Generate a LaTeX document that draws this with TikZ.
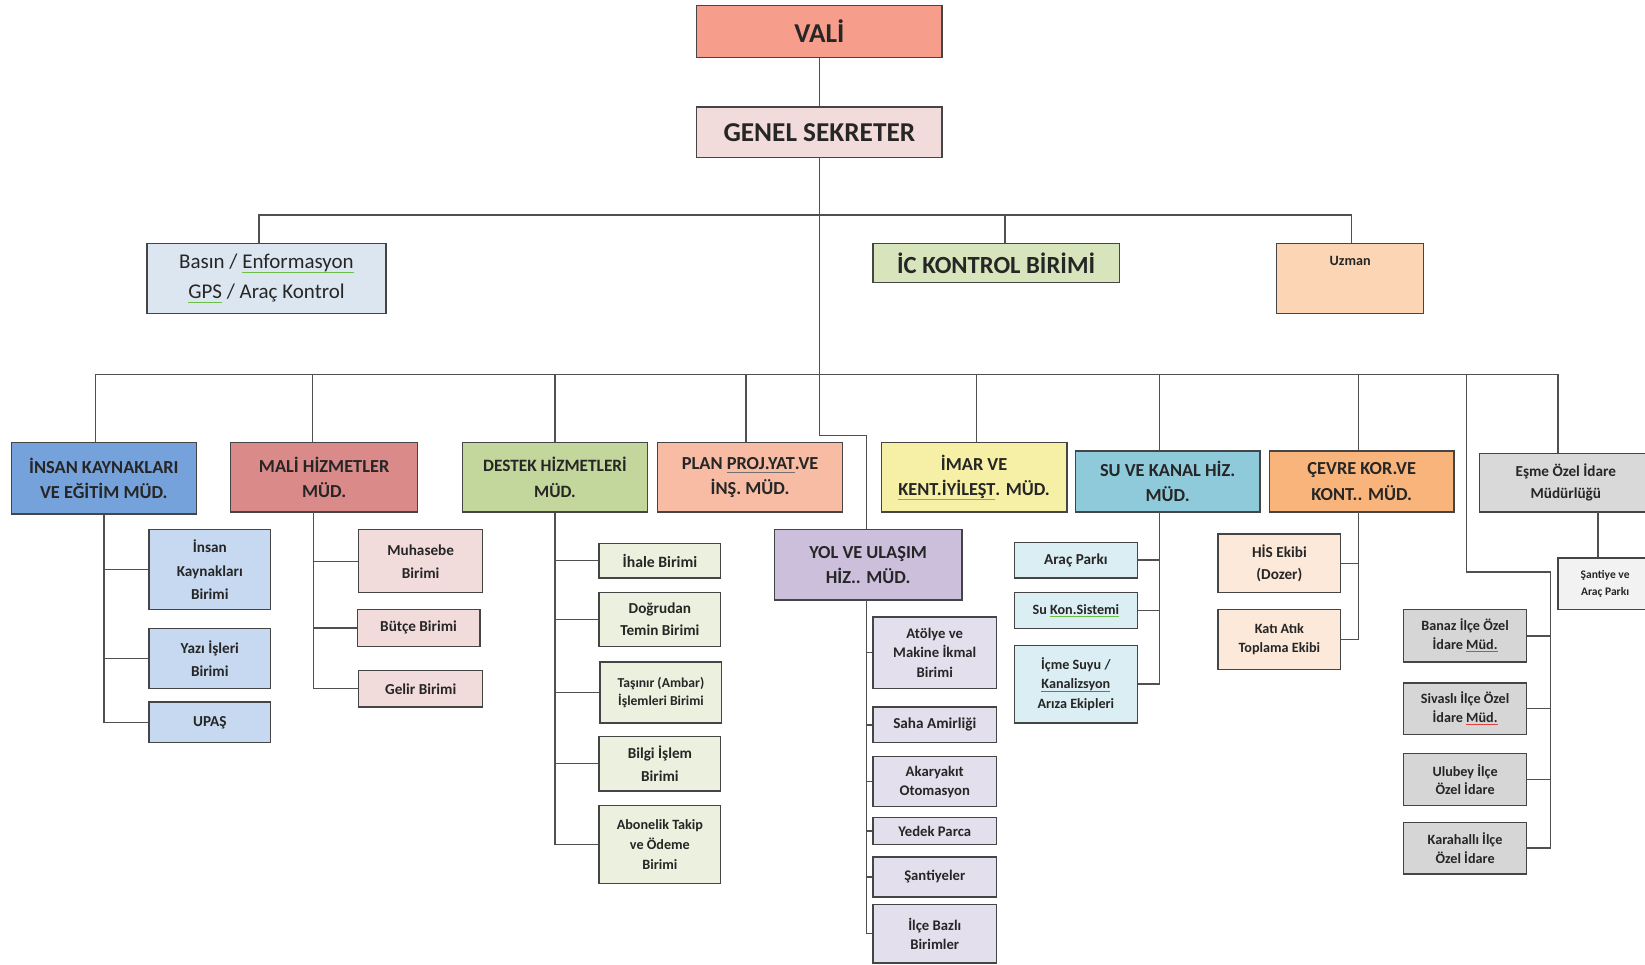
\documentclass[tikz,border=0pt]{standalone}
\usepackage{fontspec}
\setmainfont{Carlito}
\definecolor{bordc}{HTML}{454545}
\definecolor{linec}{HTML}{505050}
\definecolor{txt}{HTML}{262626}
\definecolor{ulg}{HTML}{6DBE45}
\definecolor{ulr}{HTML}{E04040}
\definecolor{uld}{HTML}{707070}
\definecolor{cVali}{HTML}{F79D8B}
\definecolor{cGS}{HTML}{F2DCDB}
\definecolor{cBasin}{HTML}{DCE6F1}
\definecolor{cIc}{HTML}{D7E4BC}
\definecolor{cUz}{HTML}{FCD5B4}
\definecolor{cIns}{HTML}{76A2DC}
\definecolor{cMali}{HTML}{D98A89}
\definecolor{cDes}{HTML}{C3D69B}
\definecolor{cPlan}{HTML}{F7BCA3}
\definecolor{cImar}{HTML}{F5F0A6}
\definecolor{cSu}{HTML}{8FCADB}
\definecolor{cCev}{HTML}{F9B47C}
\definecolor{cEs}{HTML}{D9D9D9}
\definecolor{cYol}{HTML}{CBBFDC}
\definecolor{cInsS}{HTML}{C6D9F0}
\definecolor{cMaliS}{HTML}{F2DCDB}
\definecolor{cDesS}{HTML}{EBF1DE}
\definecolor{cYolS}{HTML}{E4DFEC}
\definecolor{cSuS}{HTML}{DBEEF3}
\definecolor{cCevS}{HTML}{FDE9D9}
\definecolor{cDist}{HTML}{D6D6D6}
\definecolor{cSan}{HTML}{F2F2F2}
\newsavebox\ulbox
\newcommand\mkul[2]{\sbox\ulbox{#2}\leavevmode\rlap{\color{#1}\rule[-0.45ex]{\wd\ulbox}{1pt}}\usebox\ulbox}
\newcommand\gul[1]{\mkul{ulg}{#1}}
\newcommand\rul[1]{\mkul{ulr}{#1}}
\newcommand\dul[1]{\mkul{uld}{#1}}
\begin{document}
\begin{tikzpicture}[x=1pt,y=1pt,
  bx/.style={draw=bordc, line width=1.3pt, align=center, inner sep=0pt, text=txt},
  wh/.style 2 args={minimum width=#1pt, minimum height=#2pt},
  fz/.style 2 args={font=\bfseries\fontsize{#1}{#2}\selectfont},
  fr/.style 2 args={font=\fontsize{#1}{#2}\selectfont},
  ln/.style={draw=linec, line width=1.4pt}]
\fill[white] (0,0) rectangle (1568,-919);
\useasboundingbox (0,0) rectangle (1568,-919);

% top
\node[bx, fill=cVali, wh={234}{50}, fz={26}{30}] (vali) at (781,-30) {VALİ};
\node[bx, fill=cGS, wh={234}{48}, fz={26}{30}] (gs) at (781,-126) {GENEL SEKRETER};
\node[bx, fill=cBasin, wh={228}{67}, fr={20}{29}] (basin) at (254,-265.5) {Basın / \gul{Enformasyon}\\\gul{GPS} / Araç Kontrol};
\node[bx, fill=cIc, wh={235}{37}, fz={23.5}{28}] (ic) at (949.5,-250.5) {İC KONTROL BİRİMİ};
\node[bx, fill=cUz, wh={140}{67}, label={[anchor=north, yshift=-9pt, text=txt, fz={13.5}{15}]north:Uzman}] (uzman) at (1287,-265.5) {};

% directorates
\node[bx, fill=cIns, wh={176}{68}, fz={17.5}{24}] (insan) at (99,-456) {İNSAN KAYNAKLARI\\VE EĞİTİM MÜD.};
\node[bx, fill=cMali, wh={178}{66}, fz={17.5}{24}] (mali) at (309,-455) {MALİ HİZMETLER\\MÜD.};
\node[bx, fill=cDes, wh={176}{66}, fz={16.5}{24}] (destek) at (529,-455) {DESTEK HİZMETLERİ\\MÜD.};
\node[bx, fill=cPlan, wh={176}{66}, fz={17.5}{24}] (plan) at (715,-455) {PLAN \dul{PROJ.YAT}.VE\\İNŞ. MÜD.};
\node[bx, fill=cImar, wh={177}{66}, fz={17.5}{24}] (imar) at (928.5,-455) {İMAR VE\\\gul{KENT.İYİLEŞT}. MÜD.};
\node[bx, fill=cSu, wh={176}{58}, fz={17.5}{24}] (su) at (1113,-459) {SU VE KANAL HİZ.\\MÜD.};
\node[bx, fill=cCev, wh={176}{58}, fz={17.5}{24}] (cevre) at (1298,-459) {ÇEVRE KOR.VE\\KONT.. MÜD.};
\node[bx, fill=cEs, wh={165}{56}, fz={14.5}{21}] (esme) at (1492.5,-460) {Eşme Özel İdare\\Müdürlüğü};
\node[bx, fill=cYol, wh={179}{67}, fz={17.5}{24}] (yol) at (827.5,-538.5) {YOL VE ULAŞIM\\HİZ.. MÜD.};

% insan subs
\node[bx, fill=cInsS, wh={116}{76}, fz={14.5}{22}] (ik1) at (200,-543) {İnsan\\Kaynakları\\Birimi};
\node[bx, fill=cInsS, wh={116}{57}, fz={14.5}{22}] (ik2) at (200,-627.5) {Yazı İşleri\\Birimi};
\node[bx, fill=cInsS, wh={116}{39}, fz={14.5}{22}] (ik3) at (200,-688.5) {UPAŞ};
% mali subs
\node[bx, fill=cMaliS, wh={118}{60}, fz={14.5}{22}] (m1) at (401,-535) {Muhasebe\\Birimi};
\node[bx, fill=cMaliS, wh={117}{35}, fz={14.5}{22}] (m2) at (399,-598.5) {Bütçe Birimi};
\node[bx, fill=cMaliS, wh={118}{35}, fz={14.5}{22}] (m3) at (401,-656.5) {Gelir Birimi};
% destek subs
\node[bx, fill=cDesS, wh={116}{33}, fz={15}{21}] (d1) at (629,-534.5) {İhale Birimi};
\node[bx, fill=cDesS, wh={116}{51}, fz={14.5}{21}] (d2) at (629,-590.5) {Doğrudan\\Temin Birimi};
\node[bx, fill=cDesS, wh={116}{58}, fz={13}{17}] (d3) at (630,-660) {Taşınır (Ambar)\\İşlemleri Birimi};
\node[bx, fill=cDesS, wh={116}{52}, fz={14.5}{22}] (d4) at (629,-728) {Bilgi İşlem\\Birimi};
\node[bx, fill=cDesS, wh={116}{74}, fz={13.5}{19}] (d5) at (629,-805) {Abonelik Takip\\ve Ödeme\\Birimi};
% yol subs
\node[bx, fill=cYolS, wh={118}{68}, fz={14}{18.5}] (y1) at (891,-622) {Atölye ve\\Makine İkmal\\Birimi};
\node[bx, fill=cYolS, wh={118}{34}, fz={14.5}{18}] (y2) at (891,-691) {Saha Amirliği};
\node[bx, fill=cYolS, wh={118}{48}, fz={14}{18}] (y3) at (891,-745) {Akaryakıt\\Otomasyon};
\node[bx, fill=cYolS, wh={118}{26}, fz={14}{18}] (y4) at (891,-792) {Yedek Parca};
\node[bx, fill=cYolS, wh={118}{38}, fz={14}{18}] (y5) at (891,-836) {Şantiyeler};
\node[bx, fill=cYolS, wh={118}{56}, fz={14}{18}] (y6) at (891,-890) {İlçe Bazlı\\Birimler};
% su subs
\node[bx, fill=cSuS, wh={117}{34}, fz={14.5}{18}] (s1) at (1025.5,-534) {Araç Parkı};
\node[bx, fill=cSuS, wh={117}{34}, fz={13.5}{18}] (s2) at (1025.5,-582) {Su \gul{Kon.Sistemi}};
\node[bx, fill=cSuS, wh={117}{74}, fz={13.5}{18.5}] (s3) at (1025.5,-652) {İçme Suyu /\\\rul{Kanalizsyon}\\Arıza Ekipleri};
% cevre subs
\node[bx, fill=cCevS, wh={117}{56}, fz={14.5}{21}] (c1) at (1219.5,-537) {HİS Ekibi\\(Dozer)};
\node[bx, fill=cCevS, wh={117}{57}, fz={13.5}{18}] (c2) at (1219.5,-609.5) {Katı Atık\\Toplama Ekibi};
% esme subs
\node[bx, fill=cSan, wh={90}{49}, fz={11}{17}] (sa) at (1530,-556.5) {Şantiye ve\\Araç Parkı};
\node[bx, fill=cDist, wh={117}{50}, fz={13.5}{17.5}] (ba) at (1396.5,-606) {Banaz İlçe Özel\\İdare \rul{Müd.}};
\node[bx, fill=cDist, wh={117}{49}, fz={13.5}{17.5}] (si) at (1396.5,-675.5) {Sivaslı İlçe Özel\\İdare \rul{Müd.}};
\node[bx, fill=cDist, wh={117}{50}, fz={13.5}{17.5}] (ul) at (1396.5,-743) {Ulubey İlçe\\Özel İdare};
\node[bx, fill=cDist, wh={117}{49}, fz={13.5}{17.5}] (ka) at (1396.5,-808.5) {Karahallı İlçe\\Özel İdare};

% connectors: upper
\coordinate (k1) at (781,-415);
\coordinate (k2) at (826,-415);
\draw[ln] (vali.south) -- (gs.north);
\draw[ln] (gs.south) -- (k1) -- (k2) -- (k2 |- yol.north);
\coordinate (tL) at (247,-205);
\coordinate (tR) at (1288,-205);
\coordinate (tI) at (958,-205);
\draw[ln] (tL |- basin.north) -- (tL) -- (tR) -- (tR |- uzman.north);
\draw[ln] (tI) -- (tI |- ic.north);
% second bar
\coordinate (bL) at (91,-357);
\coordinate (bR) at (1485,-357);
\draw[ln] (bL |- insan.north) -- (bL) -- (bR) -- (bR |- esme.north);
\coordinate (b2) at (298,-357);
\coordinate (b3) at (529,-357);
\coordinate (b4) at (711,-357);
\coordinate (b5) at (931,-357);
\coordinate (b6) at (1105,-357);
\coordinate (b7) at (1295,-357);
\coordinate (b8) at (1398,-357);
\draw[ln] (b2) -- (b2 |- mali.north);
\draw[ln] (b3) -- (b3 |- destek.north);
\draw[ln] (b4) -- (b4 |- plan.north);
\draw[ln] (b5) -- (b5 |- imar.north);
\draw[ln] (b6) -- (b6 |- su.north);
\draw[ln] (b7) -- (b7 |- cevre.north);
% districts
\coordinate (dA) at (1398,-545);
\coordinate (dB) at (1478,-545);
\draw[ln] (b8) -- (dA) -- (dB) |- (ba.east);
\draw[ln] (dB) |- (si.east);
\draw[ln] (dB) |- (ul.east);
\draw[ln] (dB) |- (ka.east);
% insan
\draw[ln] (insan.south) |- (ik1.west);
\draw[ln] (insan.south) |- (ik2.west);
\draw[ln] (insan.south) |- (ik3.west);
% mali
\coordinate (mT) at (299,-488);
\draw[ln] (mT) |- (m1.west);
\draw[ln] (mT) |- (m2.west);
\draw[ln] (mT) |- (m3.west);
% destek
\draw[ln] (destek.south) |- (d1.west);
\draw[ln] (destek.south) |- (d2.west);
\draw[ln] (destek.south) |- (d3.west);
\draw[ln] (destek.south) |- (d4.west);
\draw[ln] (destek.south) |- (d5.west);
% yol
\coordinate (yT) at (826,-572);
\draw[ln] (yT) |- (y1.west);
\draw[ln] (yT) |- (y2.west);
\draw[ln] (yT) |- (y3.west);
\draw[ln] (yT) |- (y4.west);
\draw[ln] (yT) |- (y5.west);
\draw[ln] (yT) |- (y6.west);
% su
\coordinate (sT) at (1105,-488);
\draw[ln] (sT) |- (s1.east);
\draw[ln] (sT) |- (s2.east);
\draw[ln] (sT) |- (s3.east);
% cevre
\coordinate (cT) at (1295,-488);
\draw[ln] (cT) |- (c1.east);
\draw[ln] (cT) |- (c2.east);
% esme
\coordinate (eT) at (1523,-488);
\draw[ln] (eT) -- (eT |- sa.north);
\end{tikzpicture}
\end{document}
